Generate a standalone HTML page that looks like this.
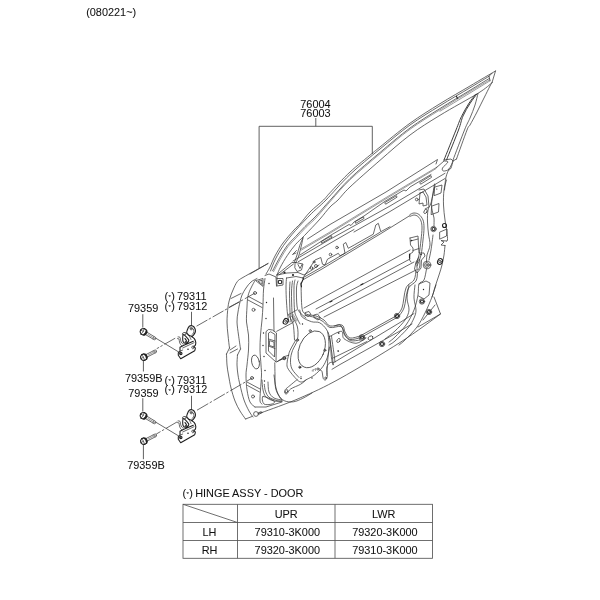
<!DOCTYPE html>
<html><head><meta charset="utf-8"><title>Door hinge diagram</title>
<style>
html,body{margin:0;padding:0;background:#fff;}
svg{display:block;filter:grayscale(1);}
text{font-family:"Liberation Sans",sans-serif;font-size:10.9px;fill:#111;stroke:#111;stroke-width:0.06px;}
.l{fill:none;stroke:#383838;stroke-width:0.75;stroke-linecap:round;stroke-linejoin:round;}
.m{fill:none;stroke:#333;stroke-width:0.95;stroke-linecap:round;stroke-linejoin:round;}
.h{fill:none;stroke:#555;stroke-width:0.6;stroke-linecap:round;stroke-linejoin:round;}
.k{fill:none;stroke:#222;stroke-width:1.1;stroke-linecap:round;stroke-linejoin:round;}
.t{fill:none;stroke:#555;stroke-width:0.85;}
.ld{fill:none;stroke:#444;stroke-width:0.85;}
.dd{fill:none;stroke:#3a3a3a;stroke-width:0.75;}
.dot{fill:#222;stroke:none;}
.s{font-size:6px;}
</style></head><body>
<svg width="600" height="600" viewBox="0 0 600 600">
<rect width="600" height="600" fill="#fff"/>
<g id="drawing">
<path class="ld" d="M315.8 118L315.8 126.3M259.1 268L259.1 126.3L372.3 126.3L372.3 154M142.8 314.2L142.8 327.6M143.4 360.3L143.4 371.5M191.5 311.8L191.5 325.8M142.8 398.2L142.8 411.6M143.4 444.3L143.4 459.2M191.5 395.8L191.5 409.8"/>
<path class="l" d="M266 274C266.7 272.8 268.5 270 270 267C271.5 264 272.8 260 275 256C277.2 252 279.8 247.3 283 243C286.2 238.7 291.2 233.2 294 230C296.8 226.8 297.3 227 300 224C302.7 221 306.1 216 310 212C313.9 208 320.2 203.2 323.5 200C326.8 196.8 325.6 197.4 330 192.7C334.4 188 343 178.5 350 172C357 165.5 367 157.7 372 153.5C377 149.3 373.7 152.1 380 147C386.3 141.9 400 130.4 410 123.2C420 116 430 109.9 440 103.7C450 97.5 460.8 91.5 470 86C479.2 80.5 491.2 73.5 495.5 71M270.5 271C271.3 269 273.3 263.2 275.5 259C277.7 254.8 280.2 250.2 283.5 245.5C286.8 240.8 290.8 235.8 295.5 230.5C300.2 225.2 306.4 218.6 311.5 213.5C316.6 208.4 319.6 206.5 326 200C332.4 193.5 341 183 350 174.5C359 166 370 157.2 380 149C390 140.8 400 132.2 410 125C420 117.8 430 111.9 440 105.7C450 99.5 461.8 92.7 470 87.8C478.2 82.9 485.8 78.2 489 76.3M272.6 270.8C273.8 268.6 277.3 261.7 279.7 257.5C282.1 253.3 284.4 249.3 287 245.8C289.6 242.3 292.5 239.9 295.5 236.7C298.5 233.5 301.6 229.9 305 226.5C308.4 223.1 311.8 220.4 316 216C320.2 211.6 324.3 206.6 330 200.3C335.7 194.1 341.7 186.5 350 178.5C358.3 170.5 370 160.9 380 152.5C390 144.1 400 135.3 410 128C420 120.7 430 114.8 440 108.5C450 102.2 461.8 95.3 470 90.3C478.2 85.3 486.2 80.3 489.5 78.3M277 275C277.6 273.7 278.8 270.2 280.5 267C282.2 263.8 284.8 259.2 287.3 255.5C289.8 251.8 292.6 247.8 295.5 244.5C298.4 241.2 300.4 239.8 304.5 235.5C308.6 231.2 315.8 223.8 320 219C324.2 214.2 327 210.2 330 207C333 203.8 334.7 203.3 338 200C341.3 196.7 343 193.6 350 187C357 180.4 370 169 380 160.3C390 151.6 400 142.5 410 135C420 127.5 428.7 122.2 440 115.3C451.3 108.3 469.3 98.7 478 93.3C486.7 87.9 489.7 84.5 492 82.7M489 76.3L490 80.8M495.5 71L492 82.7M489 76.3L492 73.3M492 82.7C491.7 83.2 491.3 83.5 490 86C488.7 88.5 486.2 93.7 484 98C481.8 102.3 479.3 107.5 477 112C474.7 116.5 471.7 122 470 125C468.3 128 469.2 124.3 467 130C464.8 135.7 458.2 154.2 456.5 159M478 93.5C477.5 95.4 476.3 100.9 475 105C473.7 109.1 471.8 113.8 470 118C468.2 122.2 467.3 123 464.5 130C461.7 137 454.9 155 453 160M444 160L451 159L453 161L456.5 159M444 161C444.7 161.2 448.2 160.8 448 162C447.8 163.2 443.2 166.5 442.5 168C441.8 169.5 442.4 170.8 443.5 171C444.6 171.2 447.4 170.7 449 169C450.6 167.3 452.3 162.3 453 161M449 169C448.5 170.3 446.8 173.5 446 177C445.2 180.5 444.8 187.8 444.5 190M453 161C452.7 162.2 451.7 166.5 451 168C450.3 169.5 449.3 169.7 449 170M307.5 239L330 224.5L386 192L437.5 159.5L436 164M436 168L444 161M300 255L330 235.7L349 224.5L351 225.5L354 222L364 216L385 201.3L404 190L406 191L410 187L431 174.5M355.5 221.5L363.5 216.8L364 218.5L356 223.2ZM385 202.5L396.5 195.7L397 197.2L386 204ZM420 182.5L431 175.6L431.5 177.4L421 184ZM321.5 241.5L331.5 235.7L332 237.2L322 243ZM293 261L330 239.3L390 206L445 173.3M298.3 261.7L330 243.3L354 229.5M354 232L390 211.5L445 178.5M303 278L315 260L320.8 257.5L322.5 264.2L325 265L327.5 259.2L338.3 253.3L340 255.8L345 253.3L343.3 244.2L345.8 242.5L348.3 248.3L354.2 245L373.3 234.2L375.8 225L378.3 223.3L380.8 231.7L390 226.7M303.5 279.5L322 269L381 233.5L410 215.5M302.5 278L321 267.5L380 232.3M446.5 180C446.1 181.7 444.5 185.8 444 190C443.5 194.2 443.3 200 443.5 205C443.7 210 444.4 215.5 445 220C445.6 224.5 446.6 228.7 447 232C447.4 235.3 447.6 238.5 447.5 240C447.4 241.5 446.7 240.8 446.5 241M446.5 241L441 240.5L444 242L441 245L445 245.5M445 245.5C444.8 247.1 444.5 251.8 444 255C443.5 258.2 442.8 261.7 442 265C441.2 268.3 440.2 271.3 439 275C437.8 278.7 436.2 283.3 435 287C433.8 290.7 433.7 292.7 432 297C430.3 301.3 427.5 308 425 313C422.5 318 420.3 322.5 417 327C413.7 331.5 408 337 405 340C402 343 400 344.2 399 345M434.5 184C434.2 185.5 433.5 189.7 433 193C432.5 196.3 431.6 200.8 431.5 204C431.4 207.2 432.1 209.7 432.5 212C432.9 214.3 433.8 215.7 434 218C434.2 220.3 434 224.7 434 226M435 185C434.3 188 432.2 198.8 431 203C429.8 207.2 428.6 206.8 428 210C427.4 213.2 427.4 218 427.5 222C427.6 226 428.1 230.2 428.5 234C428.9 237.8 430.2 241.5 430 245C429.8 248.5 427.6 252.2 427 255C426.4 257.8 426.6 260.8 426.5 262M433 235C432.7 237.5 431.7 245.8 431 250C430.3 254.2 429.3 258.3 429 260M435 187L442 185L441 193L434.5 195.5ZM432 206L439 203.5L438.5 212L431.5 214.5ZM440 232L447 229L446.5 236L440 239ZM420 193L423 192L426 197L427 205L423 206L423 203L419 204L420 193M419 190L424 189L428 196L429 207L425 209M426.5 269C426.1 270.8 425.2 277.5 424 280C422.8 282.5 420 281.5 419 284C418 286.5 418.8 290.7 418 295C417.2 299.3 416 305 414 310C412 315 409.2 320.5 406 325C402.8 329.5 397.8 334.2 395 337C392.2 339.8 390 341.2 389 342M419 284L426 281L430 283L429 295L424 299L418.5 296M436 285L432 297M434 297L440.5 314L418 327M435 305L423 320M415 285C414.8 287.2 413.8 293.8 414 298C414.2 302.2 416 306.7 416 310C416 313.3 415.3 315 414 318C412.7 321 411.2 324.2 408 328C404.8 331.8 398.2 338.2 395 341C391.8 343.8 390 344.3 389 345M409 285C408.7 287.2 407 293.8 407 298C407 302.2 409.3 306.3 409 310C408.7 313.7 407.3 316.5 405 320C402.7 323.5 398.3 327.8 395 331C391.7 334.2 386.7 337.7 385 339M410 214.5C410.7 214.2 412.5 213 414 213C415.5 213 417.5 213.3 419 214.5C420.5 215.7 422.2 217.8 423 220C423.8 222.2 424 224.7 424 228C424 231.3 423.5 235.5 423 240C422.5 244.5 422 250.7 421 255C420 259.3 417.7 264.2 417 266M410 216.5C410.7 216.2 412.7 215 414 215C415.3 215 416.8 215.5 418 216.5C419.2 217.5 420.3 219.1 421 221C421.7 222.9 422 224.8 422 228C422 231.2 421.5 235.5 421 240C420.5 244.5 419.8 251 419 255C418.2 259 416.5 262.5 416 264M416 270C415.7 271.7 415.7 277 414 280C412.3 283 408 283.3 406 288C404 292.7 403.7 303.3 402 308C400.3 312.7 397 314.7 396 316M417.5 272C417.2 273.5 417.6 278.2 416 281C414.4 283.8 410 284.5 408 289C406 293.5 405.7 303.3 404 308C402.3 312.7 399 315.5 398 317M396 316L360 336M397 317.5L361 337.5M360 336C358.3 336.3 352.5 338.7 350 338C347.5 337.3 346.3 334.2 345 332C343.7 329.8 344.5 326 342 325C339.5 324 333 326.8 330 326C327 325.2 326.3 321.7 324 320C321.7 318.3 319 317 316 316C313 315 308.3 315.3 306 314C303.7 312.7 302.8 313.2 302 308C301.2 302.8 301.2 287.2 301 283M361 337.5C359.2 337.8 352.8 340.2 350 339.5C347.2 338.8 345.5 335.2 344 333C342.5 330.8 343.3 327.4 341 326.5C338.7 325.6 333 328.3 330 327.5C327 326.7 325.5 323.2 323 321.5C320.5 319.8 318 318.5 315 317.5C312 316.5 306.7 315.8 305 315.5M304 308L410 250M316 309L410 259M319 313L414 262M324 317L416 270M268 263.5C266.5 264.3 263.3 266.1 259 268.5C254.7 270.9 245.7 275.8 242 278C238.3 280.2 238.5 280 237 282C235.5 284 234.2 287.3 233 290C231.8 292.7 230.8 295.2 230 298C229.2 300.8 228.5 303 228 307C227.5 311 227 317.3 227 322C227 326.7 227.6 330.7 228 335C228.4 339.3 229.2 345.8 229.5 348M229.5 348L226.5 354M226.5 354C226.6 355.8 226.7 361.5 227 365C227.3 368.5 227.8 371.2 228.5 375C229.2 378.8 229.9 383.7 231 388C232.1 392.3 233.5 397.2 235 401C236.5 404.8 238.2 408 240 411C241.8 414 244.6 417.7 245.5 419M245.5 419L252 416.5M262 412.5C268.3 410.1 287 403.7 300 398C313 392.3 323.3 387.8 340 378.5C356.7 369.2 383.2 353.2 400 342.5C416.8 331.8 433.8 318.8 440.5 314M250 274L268 263.5M257 278.5C256 279.1 252.8 280.4 251 282C249.2 283.6 247.5 285.8 246 288C244.5 290.2 243 292.7 242 295C241 297.3 240.7 299.2 240 302C239.3 304.8 238.5 308.7 238 312C237.5 315.3 236.9 318.2 237 322C237.1 325.8 237.9 330.5 238.5 335C239.1 339.5 240.2 346.7 240.5 349M240.5 349L237.5 355M237.5 355C237.4 356.7 236.9 361.7 237 365C237.1 368.3 237.5 371.7 238 375C238.5 378.3 239 380.8 240 385C241 389.2 242.5 395.7 244 400C245.5 404.3 247.5 408.2 249 411C250.5 413.8 252.3 416 253 417M231 298.5L241 293.5M229.5 307L239 302M230 350L236 346M230 353L237.5 349M255 280.5C254.3 281.8 252.2 285.4 251 288C249.8 290.6 248.7 292.8 248 296C247.3 299.2 247.2 302.7 247 307C246.8 311.3 246.2 317.3 246.5 322C246.8 326.7 248.2 330.3 248.5 335C248.8 339.7 248.8 345 248.5 350C248.2 355 247.4 360.8 247 365C246.6 369.2 246 370.8 246 375C246 379.2 246.3 385.5 247 390C247.7 394.5 248.7 399.2 250 402C251.3 404.8 254.2 406.2 255 407M255 407L266 407L282 402M248.5 296.5L262.5 304M248 300L262 307.5M247 382L260 389M247.5 385.5L259.5 392M265 278.5C264.8 280.4 263.8 285.6 263.5 290C263.2 294.4 263.2 300 263 305C262.8 310 262.4 315 262 320C261.6 325 260.8 330 260.5 335C260.2 340 259.9 345 260 350C260.1 355 260.8 360.8 261 365C261.2 369.2 261.6 370.8 261.5 375C261.4 379.2 260.8 385.7 260.5 390C260.2 394.3 259.8 398.7 260 401C260.2 403.3 261.7 403.5 262 404M265 275.5L269 274L276 277L276.5 286M273.5 298L274 331M256 280.5L263 278.5L263 286ZM258.5 281.2L262 280.3L262 284ZM266 332L266 353L276 362L276.5 333L272.5 330L269 329.5ZM268.5 333.5L268.5 351L274.5 357L275 334.5L271 332ZM268.5 339L275 341M268.5 346L275 348.5M269.5 341L269.5 345.5L274 347L274 342.5ZM276.7 331.3L292.7 322.7M276.5 362L282 359M262 380C262.2 381.7 262.3 387.2 263 390C263.7 392.8 264.2 395.2 266 397C267.8 398.8 271.3 400.3 274 401C276.7 401.7 280.7 401 282 401M268 382C268.2 383.7 268 389.3 269 392C270 394.7 271.8 396.7 274 398C276.2 399.3 280.7 399.7 282 400M274 375C274.3 377.2 275.1 384.3 276 388C276.9 391.7 278.5 395 279.5 397C280.5 399 281.6 399.5 282 400M263 396.5C264.7 396 272.5 399.8 274 401C275.5 402.2 273.7 403.5 272 404C270.3 404.5 265.5 405.2 264 404C262.5 402.8 261.3 397 263 396.5ZM277 275L277 285.5M277 278.5L283 278.5L283 285L277 286M286.5 278C286.4 279.5 286 283 286 287C286 291 286.2 297.5 286.5 302C286.8 306.5 287.1 310.7 287.5 314C287.9 317.3 288.8 320.7 289 322M290 282C289.9 284 289.5 289 289.5 294C289.5 299 289.8 307.3 290 312C290.2 316.7 290.8 320.3 291 322M292.5 281C292.3 282.8 291.6 286.8 291.5 292C291.4 297.2 291.7 307 292 312C292.3 317 293.2 320.3 293.5 322M295 280C294.8 281.2 294.1 282 294 287C293.9 292 294 304.8 294.5 310C295 315.2 296.1 315.7 297 318C297.9 320.3 299.5 323 300 324M298 281C297.8 282.2 296.7 283.8 296.5 288C296.3 292.2 296.5 302 297 306C297.5 310 298 310 299.5 312C301 314 304.9 317 306 318M277 275L287 273L298 272.5L304 275L312 270L319 265M286.5 278L296 276.5L303 278M303 237.7C302.4 239 300.7 242.8 299.7 245.7C298.7 248.6 297.9 252.3 297 255C296.1 257.7 294.9 260.8 294.5 262M303 237.7C302.8 238.9 302.2 242.1 301.5 245C300.8 247.9 299.9 252.1 299 255C298.1 257.9 296.5 261.2 296 262.5M277 274.6L292 262.5L296 262.5M279 275L293.5 264M296.5 250.5L292.5 254.5L296 253M295.5 262.5L303 264L301.5 270L297 271.5L295 268ZM298 264.5L300 268.5L302 264.5M296.7 310C295.6 310.6 291.6 312.9 290.3 313.7C289 314.5 288.3 313.5 288.7 315C289.1 316.5 291.9 320.5 292.7 322.7C293.5 324.9 293.4 325.1 293.7 328C294 330.9 294.4 338 294.5 340M291.5 316C292.4 317.7 296.2 322.1 297.2 326C298.2 329.9 298.3 335.4 297.5 339.5C296.7 343.6 293.7 347.1 292.5 350.5C291.3 353.9 290.6 356.9 290.5 360C290.4 363.1 290.6 366.1 292 369C293.4 371.9 297.8 376.1 299 377.5M299.8 310C300.2 311.2 300.2 315.1 302.2 317C304.1 318.9 308.6 320.7 311.5 321.7C314.4 322.7 317.2 321.4 319.7 322.8C322.2 324.2 324.9 326.9 326.7 329.8C328.4 332.7 329.4 335.8 330.2 340.3C331 344.8 330.8 352.6 331.3 356.7C331.8 360.8 332.7 363.4 333 364.8M327.8 332.2C328 334.3 329 340.5 329 345C329 349.5 328.2 353.9 327.8 359C327.4 364.1 326.9 372.6 326.7 375.3M305.5 312.5L309 311.5L311 314.5L308 316.5L305.5 315ZM314 315L317.5 314L320.5 318L318 320L314.5 318ZM280 360L284.5 358.5M333 358L367 341.5M333 363L340 358.8L400 322.5L414 313.5M332 369.3L340 364.5L400 331L412 324M334.7 326C335.6 325.8 338.6 324 340 324.7C341.4 325.4 342.5 328.2 343.3 330C344.1 331.8 343.5 333.5 344.7 335.3C345.9 337.1 348.1 339.9 350.7 340.7C353.2 341.5 358.4 340.1 360 340M329.3 336.7C331.3 335.8 338.9 331 341.3 331.3C343.8 331.6 341.6 336.7 344 338.7C346.4 340.7 352.3 343.4 356 343.3C359.7 343.2 364.3 338.9 366 338M329.3 336.7C329.8 339.6 331.3 349.3 332 354C332.7 358.7 333.1 362.9 333.3 364.7M331.5 336C331.9 339 333.4 349.7 334 354C334.6 358.3 334.8 360.7 335 362M190 328C190.4 328 191.7 327.7 192.3 328C192.9 328.3 193.6 329.2 193.8 330C194 330.8 193.8 332.2 193.5 333C193.2 333.8 192.1 334.5 191.8 334.8M182.7 348L194 342.7M180 351.3L182.7 350M186.7 334C187.2 334.4 188.8 335.6 189.5 336.5C190.2 337.4 190.8 339 191 339.5M178 337C178.3 337.1 179.6 336.7 180 337.3C180.4 337.9 180.4 339.8 180.7 340.7C181 341.6 181.3 342.4 181.7 343C182.1 343.6 183 343.8 183.3 344M177.5 338.7C177.8 338.8 178.7 338.4 179 339C179.3 339.6 179.2 341.1 179.5 342C179.8 342.9 180.1 343.9 180.5 344.5C180.9 345.1 181.8 345.6 182 345.8M144.5 328.5L143.2 331.4L141.1 334.2M140.6 330L143.2 331.4M146.9 332.2L155.7 337.5L155.7 339.1L154.3 339.8L145.5 334.6M141.7 354.6L143.4 357.2L144.7 360.5M140.9 358.7L143.4 357.2M146.1 354.5L155.2 349.9L156.5 350.7L156.4 352.3L147.4 356.9M156 338.3L178.7 352M190 412C190.4 412 191.7 411.7 192.3 412C192.9 412.3 193.6 413.2 193.8 414C194 414.8 193.8 416.2 193.5 417C193.2 417.8 192.1 418.5 191.8 418.8M182.7 432L194 426.7M180 435.3L182.7 434M186.7 418C187.2 418.4 188.8 419.6 189.5 420.5C190.2 421.4 190.8 423 191 423.5M178 421C178.3 421.1 179.6 420.7 180 421.3C180.4 421.9 180.4 423.8 180.7 424.7C181 425.6 181.3 426.4 181.7 427C182.1 427.6 183 427.8 183.3 428M177.5 422.7C177.8 422.8 178.7 422.4 179 423C179.3 423.6 179.2 425.1 179.5 426C179.8 426.9 180.1 427.9 180.5 428.5C180.9 429.1 181.8 429.6 182 429.8M144.5 412.5L143.2 415.4L141.1 418.2M140.6 414L143.2 415.4M146.9 416.2L155.7 421.5L155.7 423.1L154.3 423.8L145.5 418.6M141.7 438.6L143.4 441.2L144.7 444.5M140.9 442.7L143.4 441.2M146.1 438.5L155.2 433.9L156.5 434.7L156.4 436.3L147.4 440.9M156 422.3L178.7 436M274.8 362.8C274.8 364.8 274.9 371 275 375C275.1 379 274.8 383.4 275.4 386.7C275.9 390 276.8 392.5 278.3 394.8C279.8 397.1 281.7 399.5 284.2 400.7C286.7 401.9 290.4 402.2 293.5 401.8C296.6 401.4 299.7 399.8 302.8 398.3C305.9 396.8 310.5 393.9 312 393M277.2 361.6L285.3 356.3L288.8 355.2M295.8 340C294.8 341.8 291.2 347.8 290 350.5C288.8 353.2 288.8 354.2 288.3 356.3C287.8 358.4 287 361.2 287 363.3C287 365.4 286.6 366.5 288.3 369.2C290 371.9 294.8 377.6 297 379.7C299.2 381.8 300.1 382 301.7 382C303.2 382 304.2 380.9 306.3 379.7C308.4 378.5 311.8 377.1 314.5 375C317.2 372.9 320.6 369.7 322.7 366.8C324.8 363.9 326.1 360.8 327.3 357.5C328.5 354.2 329.3 348.8 329.7 347M264.3 384.3C264.5 385.5 264.7 389.2 265.5 391.3C266.3 393.4 267.1 395.6 269 397.2C270.9 398.8 275.1 400 277.2 400.7C279.3 401.4 281 401.2 281.8 401.3M320.3 370.3C320.6 370.5 321.5 370.1 322 371.5C322.5 372.9 322.7 377.1 323.3 378.5C323.9 379.9 324.9 380.3 325.6 379.9C326.3 379.5 327.1 378.2 327.3 376.2C327.5 374.2 326.5 370.1 326.8 368C327.1 365.9 328.1 364.3 329 363.3C329.9 362.3 331.5 362.4 332 362.2M297 379.7C295.8 380.7 291.9 383.9 290 385.5C288.1 387.1 286.2 388.4 285.3 389.6C284.4 390.9 284.5 392.3 284.8 393C285.1 393.7 286 394.4 287 393.7C288 393 288.4 390.6 290.6 389C292.9 387.4 297.9 385.9 300.5 384.3C303.1 382.8 305.3 380.5 306.3 379.7M410 238L418 236L418.5 246L419 253L424 253L425 256L421.5 260L421 268L417 273L414.5 269L416 262L419 257M410 238L410.5 245L413 248L413 252L410 254L409.5 260L411 262M417.3 262C417.7 260.2 419.2 258.7 419.6 259.5C420 260.3 420 265.2 419.6 267C419.2 268.8 417.7 270.8 417.3 270C416.9 269.2 416.9 263.8 417.3 262ZM410.5 241L418 239M413 250.5L419 248.5"/>
<path class="h" d="M273.6 271.6C274.8 269.4 278.3 262.5 280.7 258.3C283.1 254.1 285.4 250.1 288 246.6C290.6 243.1 293.5 240.7 296.5 237.5C299.5 234.3 302.6 230.8 306 227.3C309.4 223.9 312.8 221.4 317 216.8C321.2 212.2 326 206.2 331.5 200C337 193.8 341.9 187.5 350 179.8C358.1 172.1 370 162.2 380 153.8C390 145.4 400 136.6 410 129.3C420 122 430 116.1 440 109.8C450 103.5 461.7 96.5 470 91.5C478.3 86.5 486.7 81.6 490 79.6M440 111.2C445 108.2 461.7 98.1 470 93C478.3 87.9 486.7 82.8 490 80.8M301 249L330 232L385 198.2L437 167M301.5 250L330 233.2L385 199.4L436 168.6M292 314.7L296 321.3M293 314.2L297 320.8M312 370.5L313.5 369.5L313 371.5M314.5 369.3L316 368.5L315.5 370.5M147.7 334.3L155 338.7M154 336.5L153 339M148.3 354.9L155.8 351.1M153.4 350.8L155.1 353M147.7 418.3L155 422.7M154 420.5L153 423M148.3 438.9L155.8 435.1M153.4 434.8L155.1 437"/>
<path class="k" d="M456.3 96.3L457.5 98.3M330 302L332 301M361 284.8L363 283.8M303.5 278.5L301 284L301.5 287M189.3 326.3C190.2 325.6 191.8 325.6 192.7 326C193.6 326.4 194.6 327.7 195 328.7C195.4 329.7 195.6 330.9 195.3 332C195 333.1 194 334.6 193.3 335.3C192.6 336 192.4 336.6 191.3 336.3C190.2 336 187.7 334.4 187 333.3C186.3 332.2 186.9 331.2 187.3 330C187.7 328.8 188.4 327 189.3 326.3ZM191.3 336.3C191.8 336.7 193.6 337.8 194.3 338.7C195 339.6 195.5 340.9 195.7 342C195.9 343.1 195.6 344.5 195.3 345.3C195 346.1 193.7 346.2 193.7 346.7C193.7 347.1 195.1 347.3 195.3 348C195.5 348.7 194.8 350.2 194.7 350.7M194.7 350.7L180.7 358.7L178.3 355.3L178.3 352.7L180 351.3L180 347.3L183.3 345.5L193.3 341.3M183.3 334.5C184 334.2 185.8 336.4 186.7 337.3C187.6 338.2 188.5 339.2 188.7 340C188.9 340.8 188.6 341.4 188 342C187.4 342.6 186.1 343.3 185.3 343.3C184.5 343.3 183.7 342.7 183.3 342C182.9 341.3 182.7 340.6 182.7 339.3C182.7 338.1 182.6 334.8 183.3 334.5ZM185 338.5C185.2 338.9 186.4 340.4 186.5 341C186.6 341.6 185.5 341.8 185.3 342M142.1 328.7L144.5 328.5L146.3 330.2L145.5 332.9L143.4 335L141.1 334.2L140.1 331.9L140.6 330ZM146.3 329.7C146.4 330 147 331 147 331.6C146.9 332.2 146.6 332.9 146.3 333.5C146 334 145.5 334.6 145 334.9C144.4 335.2 143.4 335.2 143 335.2M140.5 356.7L141.7 354.6L144 353.9L145.9 356.1L146.6 358.9L144.7 360.5L142.3 360.1L140.9 358.7ZM143.7 353.7C144 353.7 145.1 353.8 145.6 354.1C146.1 354.5 146.5 355.1 146.8 355.7C147.1 356.2 147.4 356.9 147.3 357.5C147.3 358.1 146.7 359.1 146.6 359.4M189.3 410.3C190.2 409.6 191.8 409.6 192.7 410C193.6 410.4 194.6 411.7 195 412.7C195.4 413.7 195.6 414.9 195.3 416C195 417.1 194 418.6 193.3 419.3C192.6 420 192.4 420.6 191.3 420.3C190.2 420 187.7 418.4 187 417.3C186.3 416.2 186.9 415.2 187.3 414C187.7 412.8 188.4 411 189.3 410.3ZM191.3 420.3C191.8 420.7 193.6 421.8 194.3 422.7C195 423.6 195.5 424.9 195.7 426C195.9 427.1 195.6 428.5 195.3 429.3C195 430.1 193.7 430.2 193.7 430.7C193.7 431.1 195.1 431.3 195.3 432C195.5 432.7 194.8 434.2 194.7 434.7M194.7 434.7L180.7 442.7L178.3 439.3L178.3 436.7L180 435.3L180 431.3L183.3 429.5L193.3 425.3M183.3 418.5C184 418.2 185.8 420.4 186.7 421.3C187.6 422.2 188.5 423.2 188.7 424C188.9 424.8 188.6 425.4 188 426C187.4 426.6 186.1 427.3 185.3 427.3C184.5 427.3 183.7 426.7 183.3 426C182.9 425.3 182.7 424.6 182.7 423.3C182.7 422.1 182.6 418.8 183.3 418.5ZM185 422.5C185.2 422.9 186.4 424.4 186.5 425C186.6 425.6 185.5 425.8 185.3 426M142.1 412.7L144.5 412.5L146.3 414.2L145.5 416.9L143.4 419L141.1 418.2L140.1 415.9L140.6 414ZM146.3 413.7C146.4 414 147 415 147 415.6C146.9 416.2 146.6 416.9 146.3 417.5C146 418 145.5 418.6 145 418.9C144.4 419.2 143.4 419.2 143 419.2M140.5 440.7L141.7 438.6L144 437.9L145.9 440.1L146.6 442.9L144.7 444.5L142.3 444.1L140.9 442.7ZM143.7 437.7C144 437.7 145.1 437.8 145.6 438.1C146.1 438.5 146.5 439.1 146.8 439.7C147.1 440.2 147.4 440.9 147.3 441.5C147.3 442.1 146.7 443.1 146.6 443.4M409.5 254L409.5 258"/>
<path class="m" d="M476.8 94C475.7 95.6 472.3 99.8 470 103.5C467.7 107.2 464.9 111.6 463 116C461.1 120.4 461.2 122.7 458.5 130C455.8 137.3 448.5 155 446.5 160M475.3 94.6C474.2 96.2 470.8 100.3 468.5 104C466.2 107.7 463.6 112.2 461.5 116.5C459.4 120.8 458.9 122.8 456 130C453.1 137.2 446 155 444 160"/>
<circle class="l" cx="330.5" cy="254.5" r="1.3"/>
<circle class="l" cx="337" cy="247.5" r="1.3"/>
<circle class="l" cx="311.5" cy="268" r="1.3"/>
<circle class="l" cx="316" cy="266" r="1.5"/>
<circle class="l" cx="314" cy="262" r="1"/>
<circle class="dot" cx="436.8" cy="189" r="0.6"/>
<circle class="l" cx="433.5" cy="229" r="2.7"/>
<circle class="k" cx="433.5" cy="229" r="1.5"/>
<circle class="k" cx="444.5" cy="225.5" r="2"/>
<ellipse class="l" cx="425.5" cy="211.5" rx="1.4" ry="2.2" transform="rotate(30 425.5 211.5)"/>
<circle class="l" cx="416.8" cy="199.5" r="1.4"/>
<ellipse class="k" cx="440" cy="261.5" rx="2.3" ry="3" transform="rotate(25 440 261.5)"/>
<circle class="l" cx="440" cy="261.5" r="1.2"/>
<circle class="l" cx="427" cy="265" r="3.8"/>
<circle class="l" cx="427" cy="265" r="2.4"/>
<circle class="l" cx="427" cy="265" r="1"/>
<circle class="dot" cx="423.5" cy="289.5" r="0.7"/>
<circle class="l" cx="422" cy="301.5" r="2.7"/>
<circle class="k" cx="422" cy="301.5" r="1.5"/>
<circle class="l" cx="429" cy="312" r="2.7"/>
<circle class="k" cx="429" cy="312" r="1.5"/>
<circle class="l" cx="397" cy="316" r="2.7"/>
<circle class="k" cx="397" cy="316" r="1.5"/>
<circle class="l" cx="256" cy="414" r="2.4"/>
<circle class="l" cx="259.3" cy="413.2" r="0.9"/>
<circle class="l" cx="261" cy="412.5" r="0.9"/>
<circle class="dot" cx="269" cy="283.5" r="0.7"/>
<circle class="dot" cx="266.5" cy="302.5" r="0.7"/>
<circle class="dot" cx="266" cy="318.5" r="0.7"/>
<circle class="dot" cx="263.5" cy="333" r="0.7"/>
<circle class="dot" cx="263" cy="345.5" r="0.7"/>
<circle class="dot" cx="264" cy="356.5" r="0.7"/>
<circle class="dot" cx="265" cy="370.5" r="0.7"/>
<circle class="dot" cx="264.5" cy="381" r="0.7"/>
<circle class="l" cx="255" cy="293" r="1.5"/>
<circle class="l" cx="253.5" cy="309.8" r="1.5"/>
<circle class="l" cx="252" cy="378" r="1.5"/>
<circle class="l" cx="253" cy="396.5" r="1.5"/>
<ellipse class="l" cx="255.5" cy="362" rx="3.8" ry="7" transform="rotate(-12 255.5 362)"/>
<circle class="k" cx="280" cy="282" r="1.8"/>
<circle class="dot" cx="284.5" cy="272.5" r="1.1"/>
<circle class="dot" cx="293" cy="275" r="1.1"/>
<ellipse class="l" cx="311.7" cy="349.3" rx="12.5" ry="19.3" transform="rotate(23 311.7 349.3)"/>
<circle class="l" cx="310.2" cy="330.8" r="1.1"/>
<circle class="l" cx="324.8" cy="350.3" r="1.1"/>
<circle class="l" cx="299.8" cy="367.2" r="1.1"/>
<circle class="l" cx="297.5" cy="340" r="1.1"/>
<circle class="l" cx="318" cy="369" r="1.1"/>
<circle class="dot" cx="302.5" cy="324" r="0.7"/>
<circle class="dot" cx="312" cy="378" r="0.7"/>
<circle class="dot" cx="301" cy="378.5" r="0.7"/>
<circle class="dot" cx="338" cy="351" r="0.7"/>
<circle class="dot" cx="338.5" cy="333" r="0.7"/>
<ellipse class="l" cx="338.5" cy="340.5" rx="1.4" ry="2.2" transform="rotate(35 338.5 340.5)"/>
<ellipse class="k" cx="285.7" cy="321.3" rx="2.3" ry="3" transform="rotate(30 285.7 321.3)"/>
<circle class="l" cx="285.9" cy="321.3" r="1.1"/>
<circle class="l" cx="284.5" cy="358.5" r="1.2"/>
<circle class="l" cx="382" cy="344" r="2.7"/>
<circle class="k" cx="382" cy="344" r="1.5"/>
<ellipse class="l" cx="370.5" cy="338" rx="2.6" ry="1.9" transform="rotate(-30 370.5 338)"/>
<circle class="l" cx="362" cy="337.5" r="2.9"/>
<circle class="k" cx="362" cy="337.5" r="1.5"/>
<circle class="dot" cx="339" cy="333" r="0.6"/>
<circle class="dot" cx="338.5" cy="351" r="0.6"/>
<circle class="l" cx="191.2" cy="328.9" r="1"/>
<ellipse class="l" cx="184.3" cy="333.7" rx="2" ry="1.2" transform="rotate(-15 184.3 333.7)"/>
<circle class="k" cx="180.8" cy="353.4" r="1.2"/>
<circle class="dot" cx="180.8" cy="353.4" r="0.6"/>
<circle class="dot" cx="188" cy="349.3" r="0.8"/>
<ellipse class="l" cx="193" cy="347.3" rx="1.1" ry="1.5" transform="rotate(20 193 347.3)"/>
<circle class="l" cx="191.2" cy="412.9" r="1"/>
<ellipse class="l" cx="184.3" cy="417.7" rx="2" ry="1.2" transform="rotate(-15 184.3 417.7)"/>
<circle class="k" cx="180.8" cy="437.4" r="1.2"/>
<circle class="dot" cx="180.8" cy="437.4" r="0.6"/>
<circle class="dot" cx="188" cy="433.3" r="0.8"/>
<ellipse class="l" cx="193" cy="431.3" rx="1.1" ry="1.5" transform="rotate(20 193 431.3)"/>
<path class="dd" stroke-dasharray="12.5 2 2.5 1.5" stroke-dashoffset="0.8" d="M255 293L196.3 326.3"/>
<path class="dd" stroke-dasharray="12.5 2 2.5 1.5" d="M175.2 338.2L156.7 348.7"/>
<path class="dd" stroke-dasharray="13 2 2.5 1.7" stroke-dashoffset="6.5" d="M252.4 377.9L195.8 410.9"/>
<path class="dd" stroke-dasharray="13 2 2.5 1.7" d="M177.1 421.9L156.2 434.1"/>
<circle class="l" cx="284.2" cy="358" r="1.5"/>
<circle class="l" cx="325.6" cy="378" r="0.9"/>
<ellipse class="l" cx="286.5" cy="391.3" rx="1.1" ry="1.8" transform="rotate(35 286.5 391.3)"/>
<circle class="dot" cx="300" cy="367.4" r="0.8"/>
<circle class="dot" cx="301" cy="376.8" r="0.6"/>
<circle class="dot" cx="293.5" cy="390.8" r="0.6"/>
<circle class="dot" cx="411.5" cy="240.5" r="0.8"/>
<circle class="dot" cx="421" cy="254.5" r="0.8"/>

</g>
<g id="labels" opacity="0.999">
<text x="86.2" y="15.7">(080221~)</text>
<text x="300.3" y="108.3">76004</text>
<text x="300.3" y="117.1">76003</text>
<text x="128" y="312">79359</text>
<text x="177" y="300">79311</text>
<text x="177" y="310">79312</text>
<text x="164.6" y="300">(<tspan class="s" x="168.5" dy="-0.8">*</tspan><tspan x="171.3" dy="0.8">)</tspan></text>
<text x="164.6" y="310">(<tspan class="s" x="168.5" dy="-0.8">*</tspan><tspan x="171.3" dy="0.8">)</tspan></text>
<text x="125" y="382">79359B</text>
<text x="177" y="383.6">79311</text>
<text x="177" y="393.3">79312</text>
<text x="164.6" y="383.6">(<tspan class="s" x="168.5" dy="-0.8">*</tspan><tspan x="171.3" dy="0.8">)</tspan></text>
<text x="164.6" y="393.3">(<tspan class="s" x="168.5" dy="-0.8">*</tspan><tspan x="171.3" dy="0.8">)</tspan></text>
<text x="128.3" y="396.6">79359</text>
<text x="127.2" y="468.6">79359B</text>
<text x="182.6" y="496.6">(<tspan class="s" x="186.5" dy="-0.8">*</tspan><tspan x="189.3" dy="0.8">)</tspan></text>
</g>
<g id="table" opacity="0.999">
<text x="195.2" y="496.6">HINGE ASSY - DOOR</text>
<rect class="t" x="183" y="504.3" width="249.5" height="54"/>
<path class="t" d="M183 522.5H432.5M183 540.5H432.5M237.5 504.3V558.3M335 504.3V558.3M183 504.3L237.5 522.5"/>
<text x="286.2" y="518.3" text-anchor="middle">UPR</text>
<text x="383.8" y="518.3" text-anchor="middle">LWR</text>
<text x="209.5" y="536.4" text-anchor="middle">LH</text>
<text x="209.5" y="554.4" text-anchor="middle">RH</text>
<text x="287.3" y="536.4" text-anchor="middle">79310-3K000</text>
<text x="384.9" y="536.4" text-anchor="middle">79320-3K000</text>
<text x="287.3" y="554.4" text-anchor="middle">79320-3K000</text>
<text x="384.9" y="554.4" text-anchor="middle">79310-3K000</text>
</g>
</svg>
</body></html>
